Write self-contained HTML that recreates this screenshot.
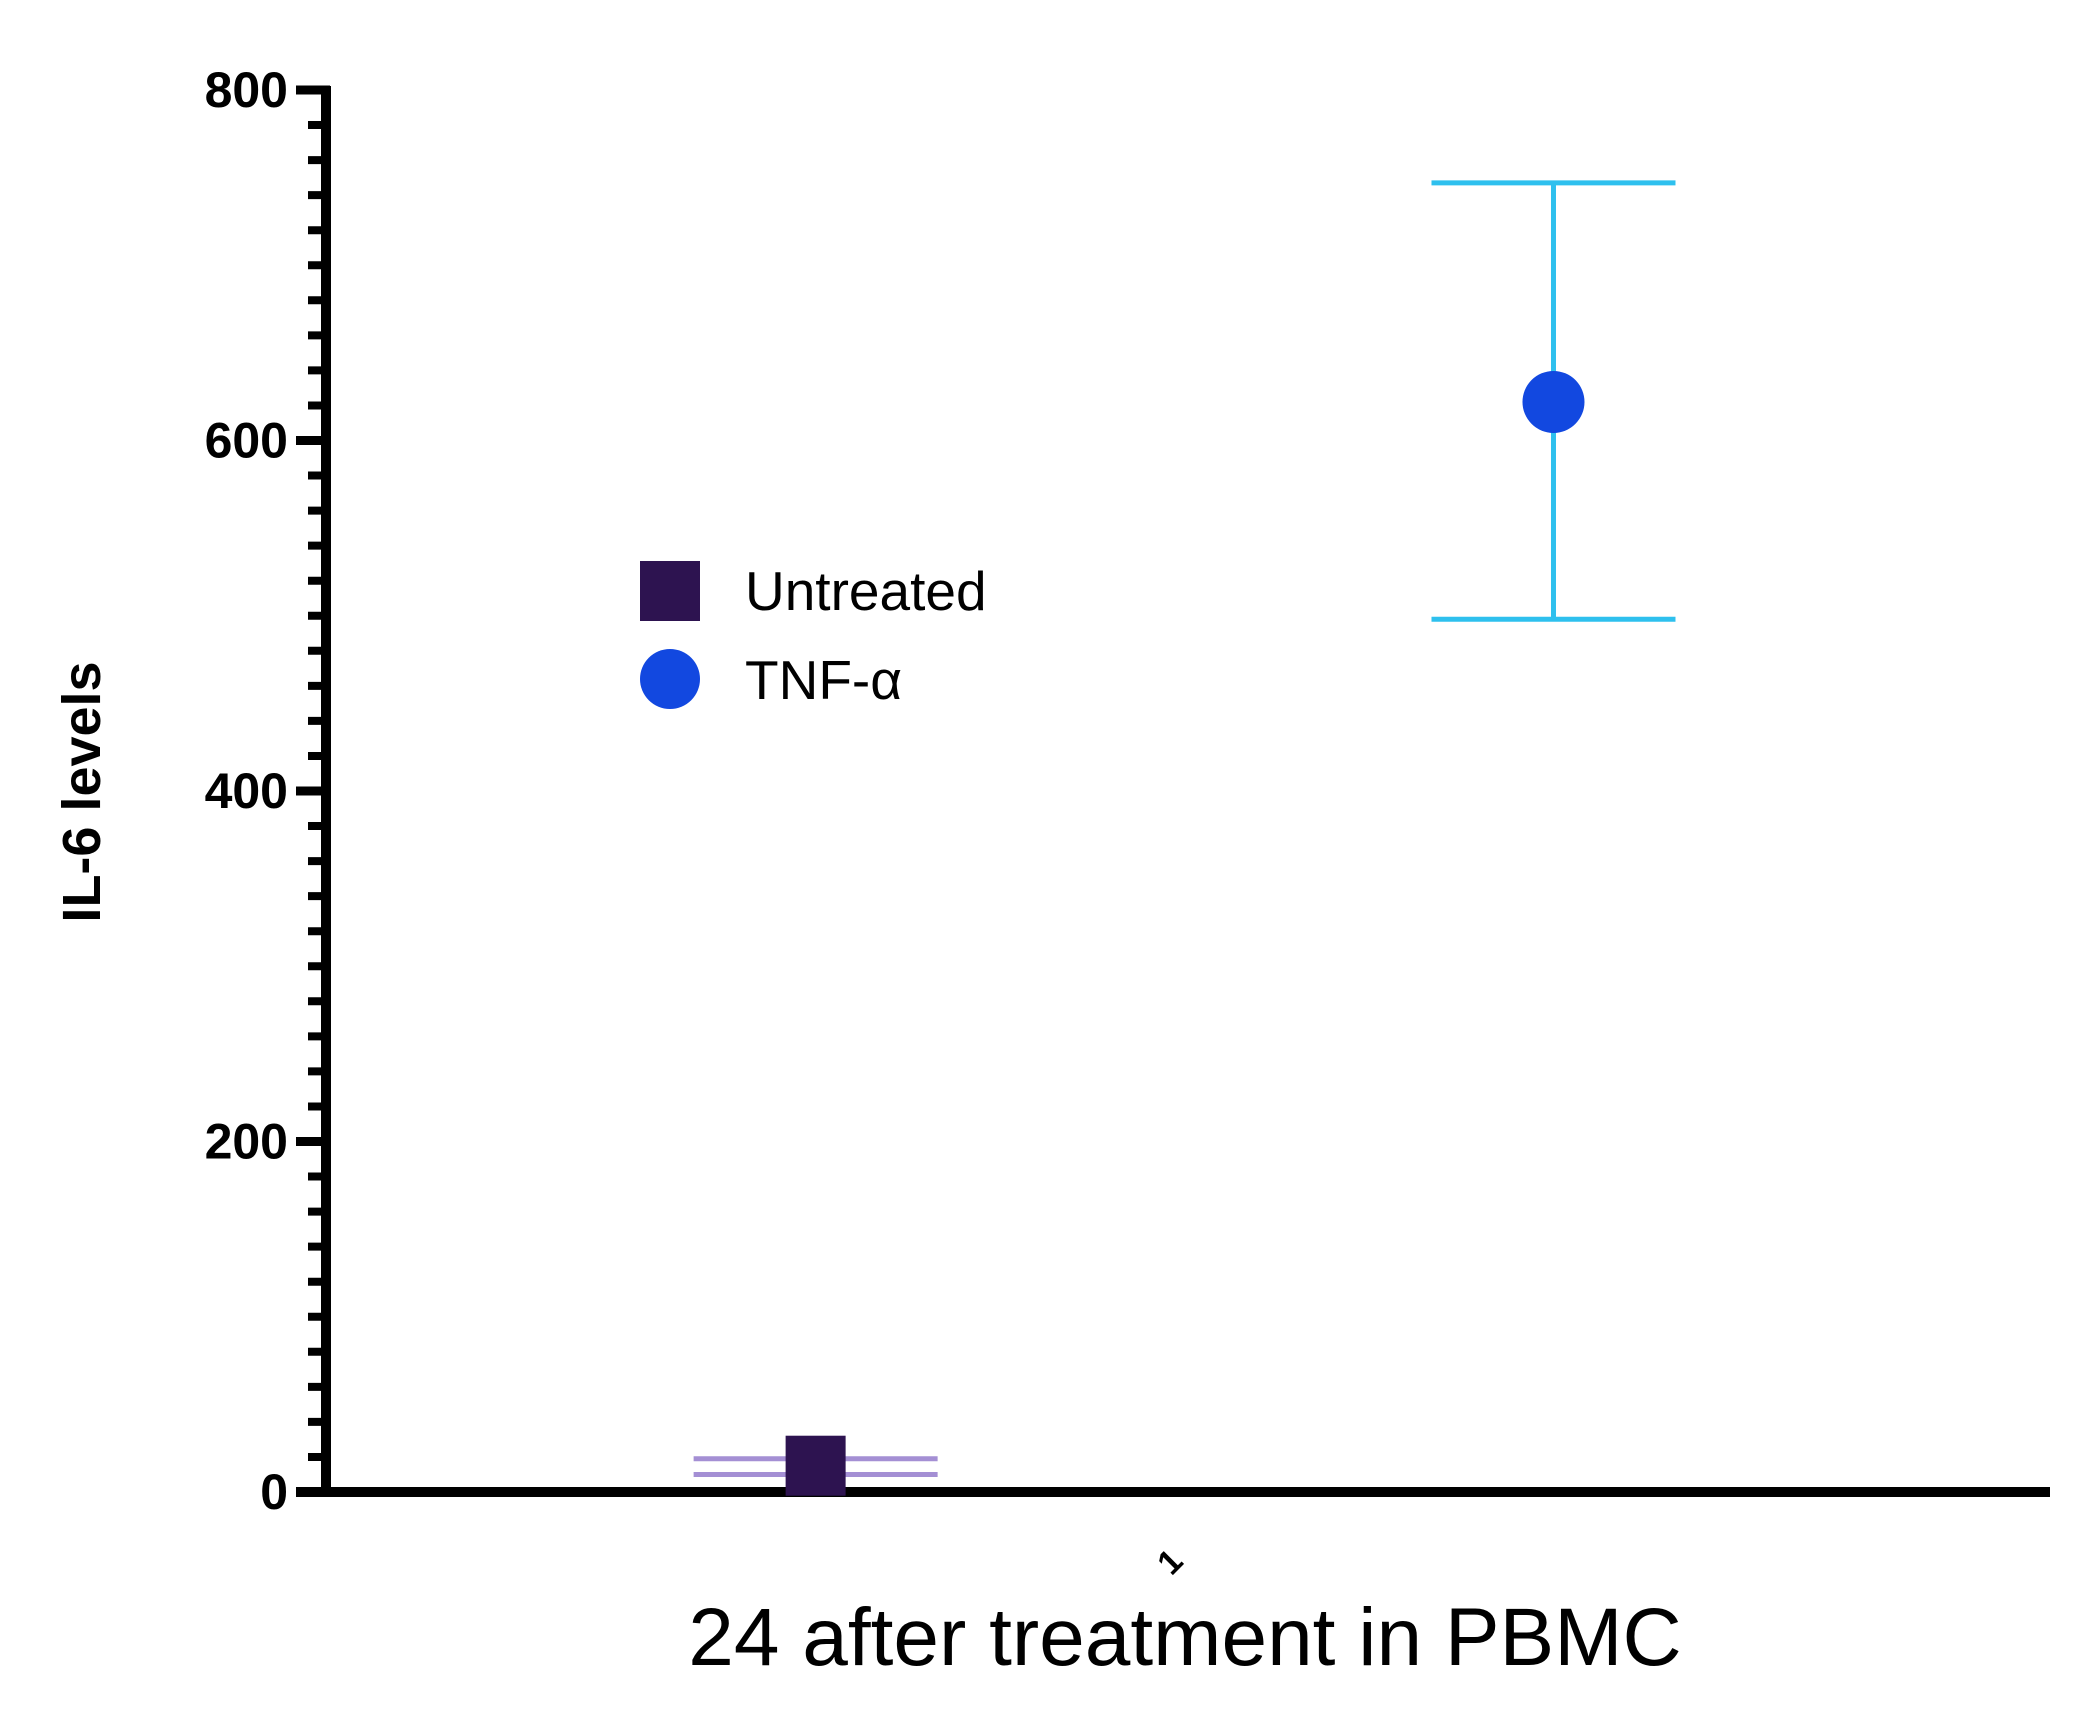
<!DOCTYPE html>
<html><head><meta charset="utf-8"><style>
html,body{margin:0;padding:0;background:#fff;}
svg{display:block;font-family:"Liberation Sans",Arial,sans-serif;}
</style></head><body>
<svg id="chart" width="2082" height="1731" viewBox="0 0 2082 1731"></svg>
<script>
const groups = ["Untreated", "TNF-α"];
const means = [15, 622];
const errLow = [10, 498];
const errHigh = [19, 747];
const yTicks = [0, 200, 400, 600, 800];
const xPositions = [0.284, 0.712]; // fraction along x axis
const NS = "http://www.w3.org/2000/svg";
const svg = document.getElementById("chart");
const X0 = 326, X1 = 2050, Y0 = 1492, Y1 = 90;
const y = v => Y0 - (v / 800) * (Y0 - Y1);
const x = f => X0 + f * (X1 - X0);
function mk(tag, attrs, parent) {
  const e = document.createElementNS(NS, tag);
  for (const k in attrs) e.setAttribute(k, attrs[k]);
  (parent || svg).appendChild(e);
  return e;
}
for (let v = 20; v < 800; v += 20) {
  if (v % 200 === 0) continue;
  const t = mk("line", {x1: 308, x2: 326, y1: y(v), y2: y(v), stroke: "#000", "stroke-width": 8});
  
  
}
yTicks.forEach(v => {
  const t = mk("line", {x1: 296, x2: 330, y1: y(v), y2: y(v), stroke: "#000", "stroke-width": 9});
  
  
  const l = mk("text", {x: 288, y: y(v) + 17, "text-anchor": "end", "font-size": 50, "font-weight": "bold"});
  l.textContent = v;
  
  
});
const ya = mk("line", {x1: X0, x2: X0, y1: Y1 - 4, y2: Y0 + 5, stroke: "#000", "stroke-width": 10});


const xa = mk("line", {x1: 296, x2: X1, y1: Y0, y2: Y0, stroke: "#000", "stroke-width": 10});


{
  const cx = x(xPositions[0]);
  [errLow[0], errHigh[0]].forEach(v => {
    const c = mk("line", {x1: cx - 122, x2: cx + 122, y1: y(v), y2: y(v), stroke: "#a48fd4", "stroke-width": 5});
    
    
  });
  const s = mk("rect", {x: cx - 30, y: y(means[0]) - 30, width: 60, height: 60, fill: "#2d1350"});
  
  
}
{
  const cx = x(xPositions[1]);
  const eb = mk("line", {x1: cx, x2: cx, y1: y(errLow[1]), y2: y(errHigh[1]), stroke: "#2ec0ee", "stroke-width": 5});
  
  
  [errLow[1], errHigh[1]].forEach(v => {
    const c = mk("line", {x1: cx - 122, x2: cx + 122, y1: y(v), y2: y(v), stroke: "#2ec0ee", "stroke-width": 5});
    
    
  });
  const p = mk("circle", {cx: cx, cy: y(means[1]), r: 31, fill: "#1248e0"});
  
  
}
</script>
<svg width="2082" height="1731" style="position:absolute;left:0;top:0">
  <g>
    <rect x="640" y="561" width="60" height="60" fill="#2d1350"/>
    <text x="745" y="610" font-size="55" font-family="Liberation Sans, sans-serif">Untreated</text>
    <circle cx="670" cy="679" r="30" fill="#1248e0"/>
    <text x="745" y="699" font-size="55" font-family="Liberation Sans, sans-serif">TNF-α</text>
  </g>
  <text transform="translate(100,792) rotate(-90)" text-anchor="middle" font-size="54" font-weight="bold" font-family="Liberation Sans, sans-serif">IL-6 levels</text>
  <text transform="translate(1178,1570) rotate(-45)" text-anchor="middle" font-size="34" font-weight="bold" font-family="Liberation Sans, sans-serif">1</text>
  <text x="1185" y="1665" text-anchor="middle" font-size="82" font-family="Liberation Sans, sans-serif">24 after treatment in PBMC</text>
</svg>
</body></html>
